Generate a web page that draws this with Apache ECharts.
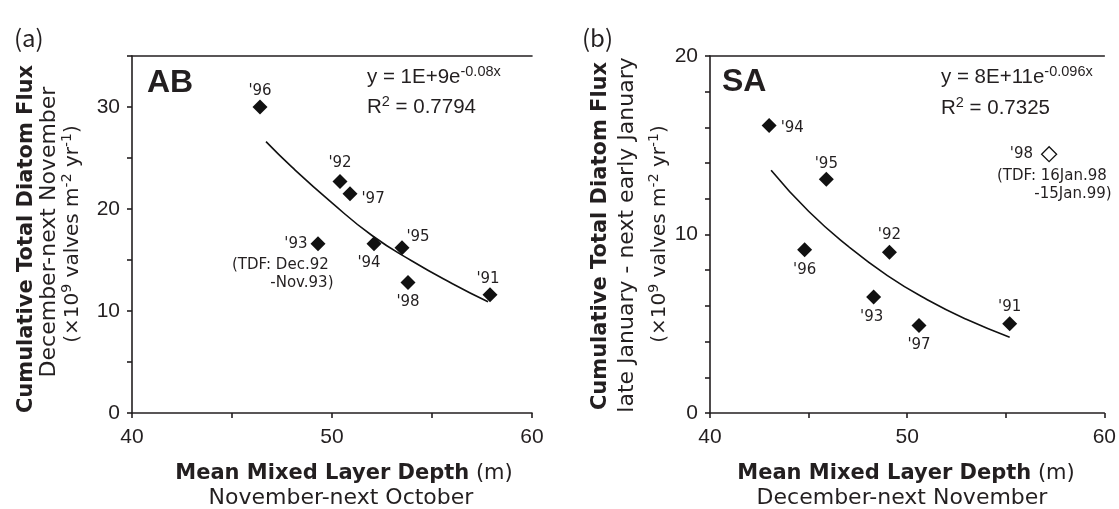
<!DOCTYPE html>
<html><head><meta charset="utf-8">
<script src="https://cdn.jsdelivr.net/npm/echarts@6/dist/echarts.min.js"></script>
<style>html,body{margin:0;padding:0;background:#fff}#c{width:1119px;height:509px}</style>
</head><body><div id="c"></div>
<script>
// ---------- Panel (a) AB ----------
const abYears = ["'91", "'92", "'93", "'94", "'95", "'96", "'97", "'98"];
const abDepth = [57.9, 50.4, 49.3, 52.1, 53.5, 46.4, 50.9, 53.8];
const abFlux  = [11.6, 22.7, 16.6, 16.6, 16.2, 30.0, 21.5, 12.8];
const abFitX  = [46.7, 48, 50, 52, 54, 56, 57.8];
const abFitY  = [26.6, 24.1, 20.6, 17.4, 14.9, 12.7, 10.9];
const abNoteYear = ["'93"];
const abNoteText = ["(TDF: Dec.92 \n-Nov.93)"];
// ---------- Panel (b) SA ----------
const saYears = ["'91", "'92", "'93", "'94", "'95", "'96", "'97"];
const saDepth = [55.2, 49.1, 48.3, 43.0, 45.9, 44.8, 50.6];
const saFlux  = [5.0, 9.0, 6.5, 16.1, 13.1, 9.15, 4.9];
const saOpenYears = ["'98"];
const saOpenDepth = [57.2];
const saOpenFlux  = [14.5];
const saNoteText = ["(TDF: 16Jan.98 \n-15Jan.99)"];
const saFitX  = [43.1, 45, 47, 49, 51, 53, 55.2];
const saFitY  = [13.6, 11.3, 9.35, 7.7, 6.36, 5.25, 4.25];
// ---------- Axes ----------
const xRange = [40, 60];
const xLabelEvery = 10;
const abYRange = [0, 35];
const saYRange = [0, 20];
const yLabelEvery = 10;

const INK = '#231f20';
const SANS = 'DejaVu Sans';
const ARIAL = 'Liberation Sans';

// label placement (layout only)
const abPlace = {
  "'91": {position: 'top', distance: 1, offset: [-2, 0]},
  "'92": {position: 'top', distance: 3},
  "'93": {position: 'left', distance: 3},
  "'94": {position: 'bottom', distance: 4, offset: [-5, 0]},
  "'95": {position: 'top', distance: 2, offset: [16, 6]},
  "'96": {position: 'top', distance: 1},
  "'97": {position: 'right', distance: 4, offset: [0, 5]},
  "'98": {position: 'bottom', distance: 5}
};
const saPlace = {
  "'91": {position: 'top', distance: 2},
  "'92": {position: 'top', distance: 2},
  "'93": {position: 'bottom', distance: 5, offset: [-2, 0]},
  "'94": {position: 'right', distance: 4, offset: [0, 2]},
  "'95": {position: 'top', distance: 0},
  "'96": {position: 'bottom', distance: 5},
  "'97": {position: 'bottom', distance: 5},
  "'98": {position: 'left', distance: 8}
};

const labelFont = {fontFamily: SANS, fontSize: 15, color: INK};

function pts(xs, ys, names, place) {
  return xs.map((x, i) => {
    const item = {value: [x, ys[i]]};
    if (names) {
      item.name = names[i];
      item.label = Object.assign({show: true, formatter: names[i]}, labelFont, place[names[i]] || {});
    }
    return item;
  });
}

function xAxes(gi) {
  return [{
    type: 'value', gridIndex: gi, min: xRange[0], max: xRange[1], interval: 5,
    axisLine: {show: true, lineStyle: {color: INK, width: 1.6}},
    axisTick: {show: true, length: 5, lineStyle: {color: INK, width: 1.6}},
    splitLine: {show: false},
    axisLabel: {margin: 14, fontFamily: ARIAL, fontSize: 21, color: INK,
      formatter: v => (v % xLabelEvery === 0 ? String(v) : '')}
  }, {
    type: 'value', gridIndex: gi, position: 'top', min: xRange[0], max: xRange[1],
    axisLine: {show: true, lineStyle: {color: INK, width: 1.6}},
    axisTick: {show: false}, axisLabel: {show: false}, splitLine: {show: false}
  }];
}
function yAxis(gi, range, interval) {
  return {
    type: 'value', gridIndex: gi, min: range[0], max: range[1], interval: interval,
    axisLine: {show: true, lineStyle: {color: INK, width: 1.6}},
    axisTick: {show: true, length: 5, lineStyle: {color: INK, width: 1.6}},
    splitLine: {show: false},
    axisLabel: {margin: 12, fontFamily: ARIAL, fontSize: 21, color: INK,
      formatter: v => (v % yLabelEvery === 0 ? String(v) : '')}
  };
}

const sup = {fontSize: 14.5, fontFamily: ARIAL, color: INK, verticalAlign: 'top', lineHeight: 14};
const eqMain = {fontSize: 20.5, fontFamily: ARIAL, color: INK, lineHeight: 25};
const supT = {fontSize: 14, fontFamily: SANS, color: INK, verticalAlign: 'top', lineHeight: 13};
const regT = {fontSize: 20, fontFamily: SANS, color: INK, lineHeight: 25};

function rotText(x, y, text, rich, style) {
  return {type: 'text', x: x, y: y, rotation: Math.PI / 2,
    style: Object.assign({text: text, rich: rich, align: 'center', verticalAlign: 'middle', fill: INK}, style || {})};
}
function txt(x, y, text, style, rich) {
  return {type: 'text', x: x, y: y,
    style: Object.assign({text: text, rich: rich, fill: INK, verticalAlign: 'middle'}, style)};
}

const unitRich = {r: regT, s: supT};
const unitText = '{r|(×10}{s|9}{r| valves m}{s|-2}{r| yr}{s|-1}{r|)}';
const xTitleRich = {b: {fontSize: 21, fontWeight: 'bold', fontFamily: SANS, color: INK}, r: {fontSize: 21, fontFamily: SANS, color: INK}};

const graphic = [
  txt(14, 38, '(a)', {fontSize: 24, fontFamily: 'Noto Sans CJK JP'}),
  txt(582, 38, '(b)', {fontSize: 24, fontFamily: 'Noto Sans CJK JP'}),
  txt(147, 83, 'AB', {fontSize: 32, fontWeight: 'bold', fontFamily: ARIAL}),
  txt(722, 82, 'SA', {fontSize: 32, fontWeight: 'bold', fontFamily: ARIAL}),
  txt(367, 77, '{m|y = 1E+9e}{s|-0.08x}', {}, {m: eqMain, s: sup}),
  txt(367, 107, '{m|R}{s|2}{m| = 0.7794}', {}, {m: eqMain, s: sup}),
  txt(941, 77, '{m|y = 8E+11e}{s|-0.096x}', {}, {m: eqMain, s: sup}),
  txt(941, 108, '{m|R}{s|2}{m| = 0.7325}', {}, {m: eqMain, s: sup}),
  // y titles (a)
  rotText(27, 239, 'Cumulative Total Diatom Flux', null, {fontSize: 21, fontWeight: 'bold', fontFamily: SANS}),
  rotText(49, 232, 'December-next November', null, {fontSize: 22, fontFamily: SANS}),
  rotText(73, 234, unitText, unitRich),
  // y titles (b)
  rotText(601, 236, 'Cumulative Total Diatom Flux', null, {fontSize: 21, fontWeight: 'bold', fontFamily: SANS}),
  rotText(627, 235, 'late January - next early January', null, {fontSize: 22, fontFamily: SANS}),
  rotText(660, 234, unitText, unitRich),
  // x titles
  txt(344, 474, '{b|Mean Mixed Layer Depth}{r| (m)}', {align: 'center'}, xTitleRich),
  txt(341, 498, 'November-next October', {align: 'center', fontSize: 22, fontFamily: SANS}),
  txt(906, 474, '{b|Mean Mixed Layer Depth}{r| (m)}', {align: 'center'}, xTitleRich),
  txt(902, 498, 'December-next November', {align: 'center', fontSize: 22, fontFamily: SANS})
];

const diamond = {symbol: 'diamond', symbolSize: 15};
const solid = {color: '#111', opacity: 1};
const hidden = {color: 'rgba(0,0,0,0)', opacity: 1};

const option = {
  animation: false,
  backgroundColor: '#fff',
  grid: [
    {left: 132, right: 587, top: 56, bottom: 96},
    {left: 710, right: 10, top: 56, bottom: 96}
  ],
  xAxis: [...xAxes(0), ...xAxes(1)],
  yAxis: [yAxis(0, abYRange, 5), yAxis(1, saYRange, 2)],
  graphic: graphic,
  series: [
    {type: 'line', xAxisIndex: 0, yAxisIndex: 0, data: pts(abFitX, abFitY), smooth: true,
      showSymbol: false, lineStyle: {color: '#111', width: 1.6}, z: 1},
    Object.assign({type: 'scatter', xAxisIndex: 0, yAxisIndex: 0,
      data: pts(abDepth, abFlux, abYears, abPlace), itemStyle: solid, z: 3}, diamond),
    {type: 'scatter', xAxisIndex: 0, yAxisIndex: 0, symbolSize: 1, itemStyle: hidden, z: 4,
      data: abNoteYear.map((y, i) => {
        const k = abYears.indexOf(y);
        return {value: [abDepth[k], abFlux[k]], label: Object.assign({show: true, formatter: abNoteText[i],
          position: [16, 13], align: 'right', verticalAlign: 'top', lineHeight: 18}, labelFont)};
      })},
    {type: 'line', xAxisIndex: 2, yAxisIndex: 1, data: pts(saFitX, saFitY), smooth: true,
      showSymbol: false, lineStyle: {color: '#111', width: 1.6}, z: 1},
    Object.assign({type: 'scatter', xAxisIndex: 2, yAxisIndex: 1,
      data: pts(saDepth, saFlux, saYears, saPlace), itemStyle: solid, z: 3}, diamond),
    Object.assign({type: 'scatter', xAxisIndex: 2, yAxisIndex: 1,
      data: pts(saOpenDepth, saOpenFlux, saOpenYears, saPlace),
      itemStyle: {color: '#fff', borderColor: '#111', borderWidth: 1.3, opacity: 1}, z: 3}, diamond),
    {type: 'scatter', xAxisIndex: 2, yAxisIndex: 1, symbolSize: 1, itemStyle: hidden, z: 4,
      data: saOpenYears.map((y, i) => ({value: [saOpenDepth[i], saOpenFlux[i]],
        label: Object.assign({show: true, formatter: saNoteText[i], position: [63, 13],
          align: 'right', verticalAlign: 'top', lineHeight: 18}, labelFont)}))}
  ]
};
const chart = echarts.init(document.getElementById('c'), null, {renderer: 'canvas'});
chart.setOption(option);
</script>
</body></html>
